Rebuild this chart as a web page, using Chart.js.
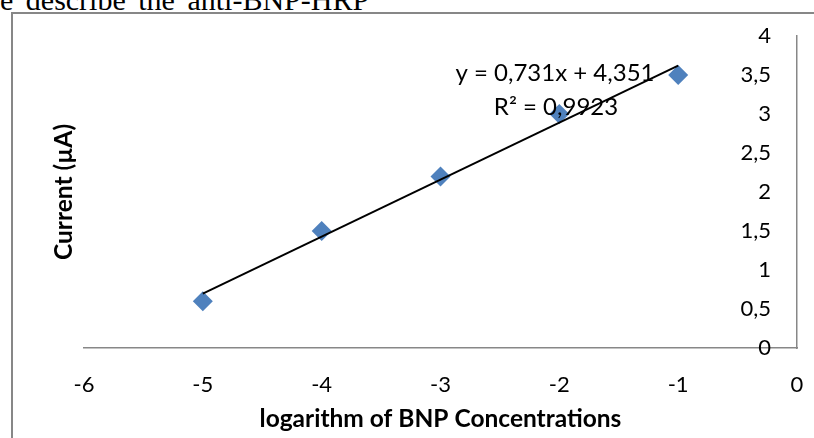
<!DOCTYPE html>
<html><head><meta charset="utf-8">
<script src="https://cdn.jsdelivr.net/npm/chart.js@4/dist/chart.umd.min.js"></script>
<style>
html,body{margin:0;padding:0;background:#fff;width:814px;height:438px;overflow:hidden;}
#wrap{position:relative;width:814px;height:438px;overflow:hidden;}
#doc{position:absolute;left:0;top:-15px;font-family:'Liberation Serif','Times New Roman',serif;font-size:30px;line-height:30px;white-space:pre;color:#000;word-spacing:5px;}
#frame{position:absolute;left:11px;top:12px;width:830px;height:450px;border:2px solid #878787;box-sizing:border-box;}
canvas{position:absolute;left:0;top:0;}
</style></head>
<body><div id="wrap"><div id="doc">e describe the anti-BNP-HRP</div><div id="frame"></div><canvas id="c" width="814" height="438"></canvas></div>
<script>
const logConc = [-5, -4, -3, -2, -1];
const currentUA = [0.6, 1.5, 2.2, 3.0, 3.5];
const xTickLabels = ['-6', '-5', '-4', '-3', '-2', '-1', '0'];
const yTickLabels = ['0', '0,5', '1', '1,5', '2', '2,5', '3', '3,5', '4'];
const trendSlope = 0.731;
const trendIntercept = 4.351;
const trendLabel = ['y = 0,731x + 4,351', 'R\u00b2 = 0,9923'];
const xTitle = 'logarithm of BNP Concentrations';
const yTitle = 'Current (\u00b5A)';

const trendX = [logConc[0], logConc[logConc.length - 1]];
const trendData = trendX.map(x => ({x: x, y: trendSlope * x + trendIntercept}));
const pts = logConc.map((x, i) => ({x: x, y: currentUA[i]}));

const FONT = 'Lato, "Open Sans", sans-serif';

const trendLabelPlugin = {
  id: 'trendLabel',
  afterDatasetsDraw(chart) {
    const ctx = chart.ctx, a = chart.chartArea;
    ctx.save();
    ctx.font = '24px ' + FONT;
    ctx.fillStyle = '#000';
    ctx.textAlign = 'center';
    ctx.textBaseline = 'middle';
    ctx.fillText(trendLabel[0], a.left + 471, a.top + 37);
    ctx.fillText(trendLabel[1], a.left + 472, a.top + 71);
    ctx.restore();
  }
};

new Chart(document.getElementById('c'), {
  data: {
    datasets: [
      {type: 'line', data: trendData, borderColor: '#000', borderWidth: 2, pointRadius: 0, fill: false, order: 0},
      {type: 'scatter', data: pts, pointStyle: 'rectRot', pointRadius: 10, pointHoverRadius: 10,
       backgroundColor: '#4f81bd', borderColor: '#4f81bd', borderWidth: 0, order: 1}
    ]
  },
  options: {
    responsive: false,
    animation: false,
    devicePixelRatio: 1,
    layout: {autoPadding: false, padding: {top: 36, left: 0, right: 0, bottom: 0}},
    plugins: {legend: {display: false}, tooltip: {enabled: false}},
    scales: {
      x: {
        type: 'linear', position: 'bottom', min: -6, max: 0,
        grid: {display: false, drawTicks: false},
        border: {display: true, color: '#878787', width: 1.5},
        ticks: {stepSize: 1, autoSkip: false, padding: 0, color: '#000', font: {family: FONT, size: 22, lineHeight: 3.364},
          callback: (v, i) => xTickLabels[i]},
        title: {display: true, text: xTitle, color: '#000', font: {family: FONT, size: 24.5, weight: 'bold'}, padding: {top: 4, bottom: 4}},
        afterFit: s => { s.height = 90; }
      },
      y: {
        type: 'linear', position: 'right', min: 0, max: 4,
        grid: {display: false, drawTicks: false},
        border: {display: true, color: '#878787', width: 1.5},
        ticks: {stepSize: 0.5, autoSkip: false, mirror: true, padding: -26, color: '#000', font: {family: FONT, size: 22},
          callback: (v, i) => yTickLabels[i]},
        afterFit: s => { s.width = 17; }
      },
      yt: {
        type: 'linear', position: 'left', display: true,
        grid: {display: false, drawTicks: false},
        border: {display: false},
        ticks: {display: false},
        title: {display: true, text: yTitle, color: '#000', font: {family: FONT, size: 24.5, weight: 'bold'}, padding: {top: 49, bottom: 0}},
        afterFit: s => { s.width = 84; }
      }
    }
  },
  plugins: [trendLabelPlugin]
});
</script>
</body></html>
